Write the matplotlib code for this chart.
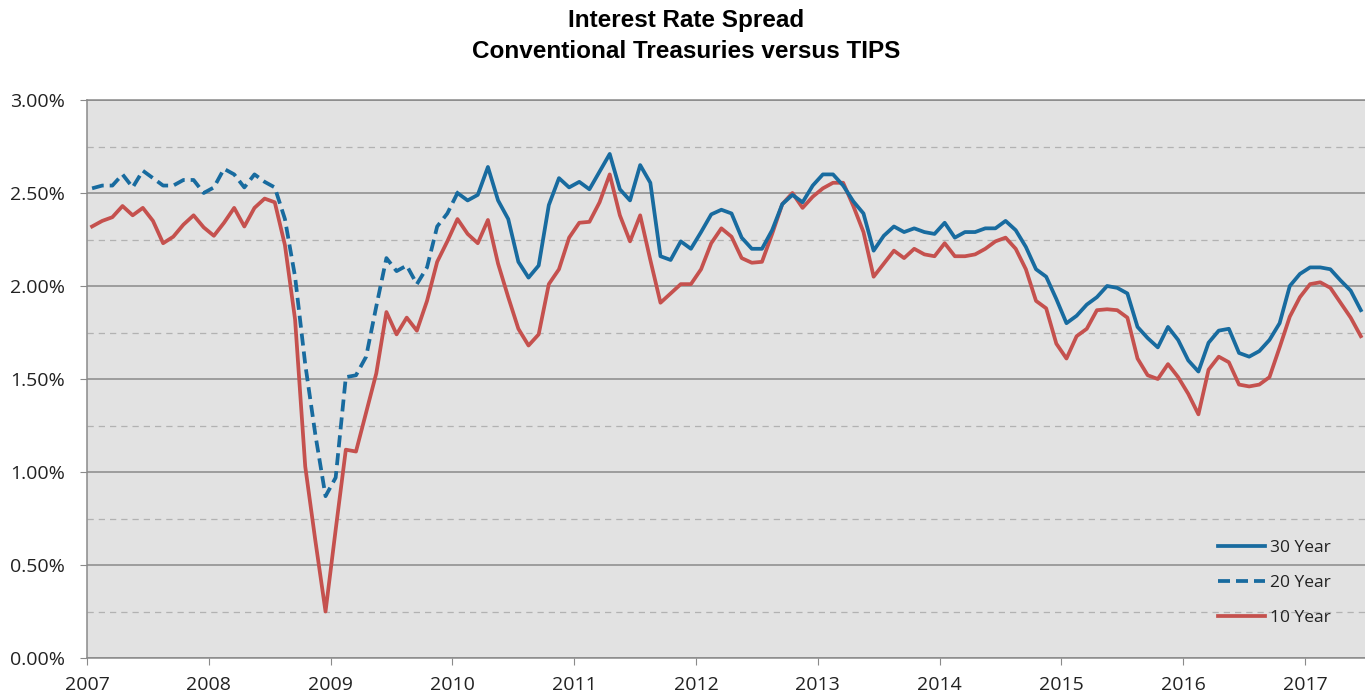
import numpy as np
import matplotlib
matplotlib.use('Agg')
import matplotlib.pyplot as plt
from matplotlib.ticker import MultipleLocator, FuncFormatter

# monthly observations, Jan 2007 .. Jun 2017 (spread in %)
start_year = 2007
n_months = 126

ten_year = [
    2.32, 2.35, 2.37, 2.43, 2.38, 2.42, 2.35, 2.23, 2.265, 2.33, 2.38, 2.315,
    2.27, 2.34, 2.42, 2.32, 2.42, 2.47, 2.45, 2.22, 1.82, 1.03, 0.63, 0.25,
    0.69, 1.12, 1.11, 1.32, 1.53, 1.86, 1.74, 1.83, 1.76, 1.92, 2.13, 2.24,
    2.36, 2.28, 2.23, 2.355, 2.12, 1.94, 1.77, 1.68, 1.74, 2.01, 2.09, 2.26,
    2.34, 2.345, 2.45, 2.60, 2.38, 2.24, 2.38, 2.14, 1.91, 1.96, 2.01, 2.01,
    2.09, 2.23, 2.31, 2.265, 2.15, 2.125, 2.13, 2.28, 2.44, 2.50, 2.42, 2.48,
    2.525, 2.555, 2.555, 2.43, 2.29, 2.05, 2.12, 2.19, 2.15, 2.20, 2.17, 2.16,
    2.23, 2.16, 2.16, 2.17, 2.20, 2.24, 2.26, 2.20, 2.09, 1.92, 1.88, 1.69,
    1.61, 1.73, 1.77, 1.87, 1.875, 1.87, 1.83, 1.61, 1.52, 1.50, 1.58, 1.51,
    1.42, 1.31, 1.55, 1.62, 1.59, 1.47, 1.46, 1.47, 1.51, 1.67, 1.835, 1.94,
    2.01, 2.02, 1.99, 1.91, 1.83, 1.73,
]

# 20 year: Jan 2007 .. Jan 2010
twenty_year = [
    2.525, 2.54, 2.54, 2.60, 2.53, 2.62, 2.58, 2.54, 2.54, 2.57, 2.57, 2.50,
    2.53, 2.63, 2.60, 2.53, 2.60, 2.56, 2.53, 2.36, 2.05, 1.58, 1.20, 0.87,
    0.97, 1.51, 1.52, 1.62, 1.89, 2.15, 2.08, 2.11, 2.01, 2.10, 2.32, 2.39,
    2.50,
]

# 30 year: Jan 2010 .. Jun 2017
thirty_start = 36
thirty_year = [
    2.50, 2.46, 2.49, 2.64, 2.46, 2.36, 2.13, 2.045, 2.11, 2.435, 2.58, 2.53,
    2.56, 2.52, 2.615, 2.71, 2.52, 2.46, 2.65, 2.555, 2.16, 2.14, 2.24, 2.20,
    2.29, 2.385, 2.41, 2.39, 2.26, 2.20, 2.20, 2.30, 2.44, 2.49, 2.45, 2.54,
    2.60, 2.60, 2.54, 2.455, 2.39, 2.19, 2.27, 2.32, 2.29, 2.31, 2.29, 2.28,
    2.34, 2.26, 2.29, 2.29, 2.31, 2.31, 2.35, 2.30, 2.21, 2.09, 2.05, 1.93,
    1.80, 1.84, 1.90, 1.94, 2.00, 1.99, 1.96, 1.78, 1.72, 1.67, 1.78, 1.71,
    1.60, 1.54, 1.695, 1.76, 1.77, 1.64, 1.62, 1.65, 1.71, 1.80, 2.00, 2.065,
    2.10, 2.10, 2.09, 2.03, 1.975, 1.87,
]

years = list(range(2007, 2018))

blue = '#186b9f'
red = '#c5514e'

# mid-month positions in decimal years
t = start_year + (np.arange(n_months) + 0.5) / 12

fig = plt.figure(figsize=(13.65, 6.98), dpi=100)
ax = fig.add_axes([87 / 1365, 1 - 658 / 698, 1 - 87 / 1365, (658 - 100) / 698])
ax.set_facecolor('#e2e2e2')

ax.plot(t[thirty_start:], thirty_year, c=blue, lw=2.7, label='30 Year', zorder=3)
ax.plot(t[:len(twenty_year)], twenty_year, c=blue, lw=2.7, ls=(0, (3.2, 1.6)), label='20 Year', zorder=3)
ax.plot(t, ten_year, c=red, lw=2.7, label='10 Year', zorder=2)

ax.set_xlim(2007, 2007 + 1278 / 121.8)
ax.set_ylim(0, 3.0)
ax.set_xticks(years)
ax.set_xticklabels([str(y) for y in years])
ax.yaxis.set_major_locator(MultipleLocator(0.5))
ax.yaxis.set_minor_locator(MultipleLocator(0.25))
ax.yaxis.set_major_formatter(FuncFormatter(lambda v, p: f'{v:.2f}%'))

ax.grid(axis='y', which='major', color='#8a8a8a', lw=1.1, ls='-')
ax.grid(axis='y', which='minor', color='#b2b2b2', lw=0.9, ls=(0, (5, 4)))
ax.set_axisbelow(True)

for side in ['left', 'bottom', 'top']:
    ax.spines[side].set_color('#8a8a8a')
    ax.spines[side].set_linewidth(1.1)
ax.spines['right'].set_visible(False)

tick_font = 'Open Sans'
ax.tick_params(axis='y', which='major', length=5, color='#8a8a8a', pad=11, labelsize=14)
ax.tick_params(axis='y', which='minor', length=0)
ax.tick_params(axis='x', length=5, color='#8a8a8a', pad=8, labelsize=14)
for lbl in ax.get_xticklabels() + ax.get_yticklabels():
    lbl.set_fontfamily(tick_font)
    lbl.set_color('#222222')

fig.text(0.5025, 1 - 26.5 / 698, 'Interest Rate Spread', ha='center', va='baseline',
         fontsize=17.5, fontweight='bold', family='Liberation Sans')
fig.text(0.5025, 1 - 57.5 / 698, 'Conventional Treasuries versus TIPS', ha='center', va='baseline',
         fontsize=17.5, fontweight='bold', family='Liberation Sans')

leg = ax.legend(loc='upper left', bbox_to_anchor=((1218 - 87) / 1278, (658 - 540) / 558),
                frameon=False, borderpad=0, borderaxespad=0, handlelength=2.7, handletextpad=0.3,
                labelspacing=1.07, prop={'family': tick_font, 'size': 12.5})
for txt in leg.get_texts():
    txt.set_color('#222222')

fig.savefig('out.png', dpi=100)
